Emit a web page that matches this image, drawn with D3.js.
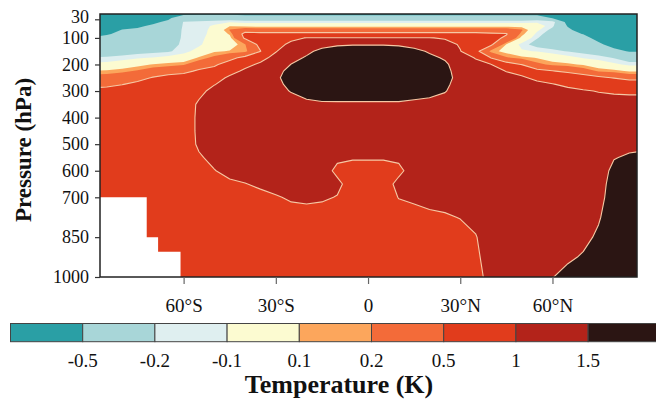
<!DOCTYPE html>
<html>
<head>
<meta charset="utf-8">
<script src="https://cdn.jsdelivr.net/npm/d3@7"></script>
<style>
  body { margin: 0; background: #ffffff; }
  svg { display: block; }
  text { font-family: "Liberation Serif", "Times New Roman", serif; fill: #111; }
</style>
</head>
<body>
<svg id="chart" width="656" height="400"></svg>
<script>
// Grid columns (latitude, degrees north) and rows (pressure, hPa)
const latitudes = [-90, -85, -80, -75, -70, -65, -60, -55, -50, -45, -40, -35, -30, -25, -20, -15, -10, -5, 0,
                   5, 10, 15, 20, 25, 30, 35, 40, 45, 50, 55, 60, 65, 70, 75, 80, 85, 90];
const pressureLevels = [10, 25, 40, 55, 70, 85, 100, 125, 150, 175, 200, 225, 250, 275, 300,
                        350, 400, 450, 500, 550, 600, 650, 700, 775, 850, 925, 1000];

// Zonal-mean temperature change (K); one row per pressure level, one value per latitude
const tempChange = [
  [-0.8,-0.8,-0.8,-0.75,-0.72,-0.62,-0.55,-0.55,-0.55,-0.55, -0.6,-0.6,-0.6,-0.6,-0.6,-0.6,-0.6,-0.6,-0.6,-0.6, -0.6,-0.6,-0.6,-0.6,-0.6,-0.6,-0.6,-0.6,-0.6,-0.6, -0.65,-0.8,-0.85,-0.9,-0.9,-0.9,-0.9],
  [-0.78,-0.75,-0.72,-0.68,-0.62,-0.54,-0.35,-0.3,-0.3,-0.3, -0.3,-0.3,-0.3,-0.3,-0.3,-0.3,-0.3,-0.3,-0.3,-0.3, -0.3,-0.3,-0.3,-0.3,-0.3,-0.3,-0.3,-0.3,-0.3,-0.3, -0.52,-0.7,-0.8,-0.88,-0.9,-0.9,-0.9],
  [-0.72,-0.7,-0.65,-0.6,-0.54,-0.46,-0.19,-0.18,-0.15,-0.12, -0.15,-0.15,-0.15,-0.15,-0.15,-0.15,-0.15,-0.15,-0.15,-0.15, -0.15,-0.15,-0.15,-0.15,-0.15,-0.15,-0.15,-0.15,-0.15,-0.12, -0.12,-0.6,-0.75,-0.85,-0.88,-0.9,-0.9],
  [-0.68,-0.65,-0.58,-0.53,-0.47,-0.42,-0.18,-0.15,-0.08,0.09, 0.05,0.05,0.05,0.05,0.05,0.05,0.05,0.05,0.05,0.05, 0.05,0.05,0.05,0.05,0.05,0.05,0.05,0.05,0.05,-0.02, -0.17,-0.52,-0.68,-0.8,-0.85,-0.88,-0.88],
  [-0.62,-0.6,-0.49,-0.47,-0.43,-0.39,-0.17,-0.14,-0.07,0.21, 0.35,0.3,0.3,0.3,0.3,0.3,0.3,0.3,0.3,0.3, 0.3,0.3,0.3,0.3,0.3,0.3,0.3,0.3,0.22,-0.07, -0.25,-0.45,-0.62,-0.75,-0.82,-0.86,-0.86],
  [-0.56,-0.52,-0.45,-0.43,-0.4,-0.36,-0.17,-0.14,-0.06,0.12, 0.6,0.6,0.6,0.6,0.6,0.6,0.6,0.6,0.6,0.6, 0.6,0.6,0.6,0.6,0.6,0.6,0.55,0.52,0.15,-0.14, -0.3,-0.4,-0.51,-0.68,-0.78,-0.82,-0.82],
  [-0.49,-0.45,-0.4,-0.39,-0.36,-0.33,-0.17,-0.13,-0.05,0.05, 0.55,0.72,0.75,0.9,1.02,1.02,1.02,1.02,1.02,1.02, 1.02,1.02,1.02,0.95,0.8,0.72,0.6,0.45,0.05,-0.19, -0.32,-0.38,-0.42,-0.58,-0.72,-0.76,-0.76],
  [-0.4,-0.38,-0.34,-0.33,-0.31,-0.29,-0.16,-0.12,-0.02,0.0, 0.19,0.6,0.85,1.1,1.25,1.35,1.45,1.48,1.48,1.48, 1.45,1.35,1.3,1.2,0.95,0.7,0.55,0.09,-0.15,-0.26, -0.3,-0.33,-0.35,-0.45,-0.6,-0.66,-0.66],
  [-0.31,-0.3,-0.28,-0.26,-0.24,-0.22,-0.14,-0.05,0.08,0.11, 0.15,0.49,0.98,1.2,1.4,1.62,1.7,1.7,1.7,1.7, 1.7,1.62,1.45,1.35,1.02,0.6,0.15,0.05,-0.08,-0.11, -0.16,-0.21,-0.25,-0.3,-0.42,-0.52,-0.52],
  [-0.19,-0.18,-0.16,-0.12,-0.09,-0.05,-0.03,0.12,0.25,0.4, 0.6,0.9,1.1,1.35,1.55,1.72,1.8,1.8,1.8,1.8, 1.8,1.72,1.6,1.45,1.15,0.98,0.49,0.22,0.15,0.09, 0.02,-0.05,-0.11,-0.15,-0.21,-0.32,-0.32],
  [-0.06,-0.05,0.0,0.05,0.11,0.14,0.18,0.35,0.45,0.65, 0.92,1.05,1.25,1.51,1.65,1.78,1.85,1.85,1.85,1.85, 1.85,1.78,1.68,1.58,1.25,1.1,1.01,0.65,0.49,0.25, 0.16,0.13,0.08,0.0,-0.07,-0.13,-0.13],
  [0.11,0.12,0.16,0.22,0.3,0.38,0.42,0.55,0.62,0.9, 1.05,1.12,1.4,1.6,1.7,1.8,1.85,1.85,1.85,1.85, 1.85,1.8,1.7,1.6,1.35,1.2,1.1,0.99,0.93,0.6, 0.52,0.42,0.3,0.18,0.14,0.08,0.08],
  [0.28,0.3,0.34,0.4,0.52,0.6,0.65,0.7,0.88,1.05, 1.1,1.2,1.45,1.62,1.7,1.8,1.85,1.85,1.85,1.85, 1.85,1.78,1.7,1.6,1.4,1.25,1.15,1.1,1.03,0.95, 0.9,0.8,0.7,0.58,0.48,0.35,0.35],
  [0.4,0.42,0.49,0.58,0.65,0.7,0.75,0.8,0.99,1.1, 1.12,1.22,1.42,1.58,1.68,1.75,1.8,1.8,1.8,1.8, 1.8,1.72,1.66,1.56,1.38,1.27,1.18,1.15,1.1,1.05, 1.01,0.96,0.92,0.88,0.85,0.8,0.8],
  [0.6,0.62,0.65,0.7,0.72,0.78,0.82,0.93,1.08,1.15, 1.15,1.25,1.38,1.52,1.63,1.68,1.7,1.7,1.7,1.7, 1.7,1.65,1.6,1.52,1.35,1.28,1.2,1.18,1.15,1.12, 1.1,1.05,1.02,0.99,0.97,0.96,0.96],
  [0.75,0.75,0.75,0.75,0.77,0.82,0.85,1.04,1.12,1.15, 1.2,1.25,1.3,1.35,1.42,1.45,1.45,1.45,1.45,1.45, 1.45,1.42,1.4,1.35,1.3,1.25,1.18,1.2,1.2,1.2, 1.2,1.15,1.12,1.1,1.1,1.1,1.1],
  [0.75,0.75,0.76,0.77,0.78,0.82,0.86,1.05,1.12,1.15, 1.2,1.25,1.25,1.28,1.3,1.3,1.3,1.3,1.3,1.3, 1.3,1.3,1.3,1.28,1.25,1.22,1.15,1.2,1.2,1.22, 1.25,1.2,1.18,1.15,1.2,1.2,1.2],
  [0.75,0.75,0.76,0.77,0.78,0.82,0.86,1.05,1.12,1.15, 1.2,1.25,1.22,1.25,1.26,1.25,1.22,1.2,1.2,1.2, 1.22,1.25,1.25,1.25,1.22,1.2,1.15,1.2,1.2,1.22, 1.25,1.22,1.2,1.2,1.3,1.3,1.32],
  [0.75,0.75,0.76,0.77,0.78,0.82,0.85,1.04,1.1,1.15, 1.2,1.25,1.2,1.22,1.24,1.2,1.15,1.12,1.12,1.12, 1.15,1.2,1.2,1.22,1.2,1.18,1.15,1.2,1.2,1.22, 1.25,1.25,1.22,1.22,1.35,1.4,1.42],
  [0.75,0.75,0.76,0.77,0.78,0.8,0.83,0.97,1.07,1.15, 1.2,1.25,1.18,1.2,1.2,1.15,1.04,1.03,1.03,1.03, 1.04,1.15,1.18,1.2,1.18,1.15,1.15,1.2,1.2,1.22, 1.25,1.25,1.25,1.25,1.48,1.55,1.58],
  [0.75,0.75,0.76,0.77,0.78,0.8,0.82,0.9,0.99,1.08, 1.12,1.15,1.14,1.16,1.16,1.1,0.95,0.88,0.88,0.88, 0.95,1.1,1.15,1.18,1.15,1.12,1.15,1.2,1.2,1.22, 1.25,1.28,1.27,1.3,1.6,1.65,1.65],
  [0.75,0.75,0.76,0.77,0.78,0.79,0.8,0.85,0.9,0.95, 0.99,1.05,1.08,1.1,1.1,1.08,1.05,0.9,0.9,0.9, 1.06,1.08,1.12,1.15,1.12,1.1,1.15,1.2,1.2,1.25, 1.25,1.3,1.3,1.35,1.65,1.68,1.68],
  [0.75,0.75,0.76,0.77,0.78,0.78,0.79,0.8,0.85,0.88, 0.9,0.92,0.98,1.03,1.05,1.03,0.99,0.86,0.86,0.86, 1.01,1.05,1.08,1.1,1.08,1.07,1.12,1.2,1.22,1.25, 1.25,1.33,1.33,1.4,1.65,1.7,1.7],
  [0.75,0.75,0.76,0.77,0.78,0.78,0.78,0.78,0.8,0.82, 0.84,0.85,0.88,0.9,0.9,0.9,0.87,0.82,0.82,0.82, 0.88,0.9,0.95,0.97,1.01,1.05,1.12,1.2,1.22,1.25, 1.28,1.36,1.38,1.47,1.68,1.7,1.7],
  [0.75,0.75,0.76,0.77,0.78,0.78,0.78,0.77,0.78,0.78, 0.8,0.8,0.82,0.84,0.85,0.85,0.84,0.8,0.8,0.8, 0.84,0.85,0.88,0.88,0.9,0.99,1.1,1.2,1.22,1.28, 1.3,1.4,1.42,1.55,1.7,1.72,1.72],
  [0.75,0.75,0.76,0.77,0.78,0.78,0.78,0.76,0.76,0.76, 0.77,0.78,0.79,0.8,0.8,0.8,0.8,0.78,0.78,0.78, 0.8,0.8,0.82,0.84,0.85,0.95,1.12,1.2,1.25,1.3, 1.35,1.45,1.53,1.6,1.7,1.72,1.72],
  [0.75,0.75,0.76,0.77,0.78,0.78,0.78,0.76,0.75,0.75, 0.76,0.76,0.77,0.78,0.78,0.78,0.78,0.76,0.76,0.76, 0.78,0.78,0.8,0.8,0.82,0.9,1.1,1.2,1.25,1.35, 1.49,1.6,1.65,1.65,1.7,1.72,1.72]
];

// Colour classes: breaks between bands and one colour per band
const bandBreaks = [-0.5, -0.2, -0.1, 0.1, 0.2, 0.5, 1, 1.5];
const bandColors = ["#2a9fa5", "#a8d6d8", "#dfeff0", "#fcfbd1", "#fca65c", "#f36b39", "#e13c1c", "#b3231a", "#2b1513"];

// Axis ticks
const pressureTicks = [30, 100, 200, 300, 400, 500, 600, 700, 850, 1000];
const latTicks = [-60, -30, 0, 30, 60];
const latTickLabels = ["60°S", "30°S", "0", "30°N", "60°N"];

// Below-ground (no data) steps over Antarctica
const groundLat = [-90, -72, -68.3, -61];
const groundTopP = [700, 850, 905];

const svg = d3.select("#chart");
const plot = { left: 100, top: 14, right: 637, bottom: 277 };

const x = d3.scaleLinear().domain([-87.2, 87.5]).range([plot.left, plot.right]);
const y = d3.scaleLinear().domain([10, 1000]).range([plot.top, plot.bottom]);

// fractional grid index -> coordinate, linear between nodes and extended past the ends
function along(arr, t) {
  const i = Math.max(0, Math.min(arr.length - 2, Math.floor(t)));
  return arr[i] + (arr[i + 1] - arr[i]) * (t - i);
}

const nx = latitudes.length, ny = pressureLevels.length;
const bands = d3.contours().size([nx, ny]).thresholds(bandBreaks)(tempChange.flat());

const gridToPlot = d3.geoTransform({
  point(cx, cy) {
    this.stream.point(x(along(latitudes, cx - 0.5)), y(along(pressureLevels, cy - 0.5)));
  }
});
const path = d3.geoPath(gridToPlot);

svg.append("defs").append("clipPath").attr("id", "plotClip")
  .append("rect")
  .attr("x", plot.left).attr("y", plot.top)
  .attr("width", plot.right - plot.left).attr("height", plot.bottom - plot.top);

const field = svg.append("g").attr("clip-path", "url(#plotClip)");

field.append("rect")
  .attr("x", plot.left).attr("y", plot.top)
  .attr("width", plot.right - plot.left).attr("height", plot.bottom - plot.top)
  .attr("fill", bandColors[0]);

field.selectAll("path.band")
  .data(bands)
  .join("path")
  .attr("class", "band")
  .attr("d", path)
  .attr("fill", (d, i) => bandColors[i + 1])
  .attr("stroke", d => d.value >= 0.5 ? "#f6c8a4" : "none")
  .attr("stroke-width", 1.1)
  .attr("stroke-linejoin", "round");

// no-data region below the surface, drawn as one stepped outline
const groundPts = [[x(groundLat[0]), plot.bottom + 5]];
groundTopP.forEach((p, i) => {
  groundPts.push([x(groundLat[i]), y(p)], [x(groundLat[i + 1]), y(p)]);
});
groundPts.push([x(groundLat[groundLat.length - 1]), plot.bottom + 5]);
field.append("path")
  .attr("d", d3.line()(groundPts) + "Z")
  .attr("fill", "#ffffff");

// frame
svg.append("rect")
  .attr("x", plot.left).attr("y", plot.top)
  .attr("width", plot.right - plot.left).attr("height", plot.bottom - plot.top)
  .attr("fill", "none").attr("stroke", "#222").attr("stroke-width", 1.5);

// y axis
const yAxis = svg.append("g")
  .attr("transform", `translate(${plot.left},0)`)
  .call(d3.axisLeft(y).tickValues(pressureTicks).tickSize(5).tickPadding(6).tickFormat(d3.format("d")));
yAxis.select(".domain").remove();
yAxis.selectAll(".tick line").attr("stroke", "#333").attr("stroke-width", 1.2);
yAxis.selectAll(".tick text").style("font-size", "18px").attr("fill", "#111")
  .style("font-family", "'Liberation Serif', serif")
  .attr("dy", d => d === 30 ? "0.2em" : "0.32em");

// x axis
const xAxis = svg.append("g")
  .attr("transform", `translate(0,${plot.bottom})`)
  .call(d3.axisBottom(x).tickValues(latTicks).tickSize(7).tickPadding(15)
    .tickFormat((d, i) => latTickLabels[i]));
xAxis.select(".domain").remove();
xAxis.selectAll(".tick line").attr("stroke", "#666").attr("stroke-width", 1.2);
xAxis.selectAll(".tick text").style("font-size", "19px").attr("fill", "#111")
  .style("font-family", "'Liberation Serif', serif");

// y axis title
svg.append("text")
  .attr("transform", "translate(31,150) rotate(-90)")
  .attr("text-anchor", "middle")
  .style("font-size", "23px").style("font-weight", "bold")
  .text("Pressure (hPa)");

// colour bar
const bar = { left: 10.5, top: 323.5, width: 72.2, height: 18.2 };
const barX = i => bar.left + i * bar.width;
svg.append("g").selectAll("rect")
  .data(bandColors)
  .join("rect")
  .attr("x", (d, i) => barX(i)).attr("y", bar.top)
  .attr("width", bar.width).attr("height", bar.height)
  .attr("fill", d => d)
  .attr("stroke", "#444").attr("stroke-width", 1);

svg.append("g").selectAll("text")
  .data(bandBreaks)
  .join("text")
  .attr("x", (d, i) => barX(i + 1)).attr("y", 367)
  .attr("text-anchor", "middle")
  .style("font-size", "19px")
  .text(d => String(d));

svg.append("text")
  .attr("x", 339).attr("y", 393)
  .attr("text-anchor", "middle")
  .style("font-size", "26px").style("font-weight", "bold")
  .text("Temperature (K)");
</script>
</body>
</html>
